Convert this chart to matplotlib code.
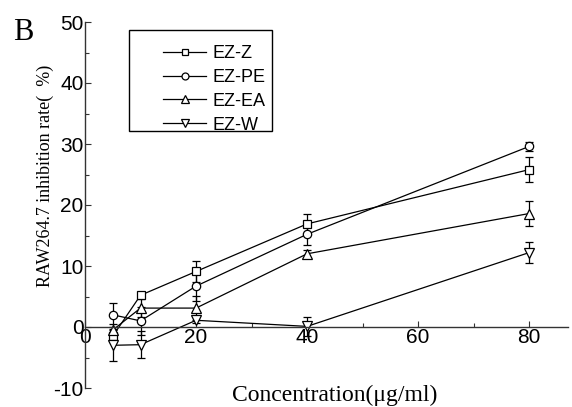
import matplotlib.pyplot as plt
from matplotlib.patches import Rectangle
from matplotlib.lines import Line2D

plt.rcParams['axes.unicode_minus'] = False

# data
conc = [5, 10, 20, 40, 80]
names = ['EZ-Z', 'EZ-PE', 'EZ-EA', 'EZ-W']
markers = ['s', 'o', '^', 'v']
ez_z = [-1.5, 5.2, 9.1, 16.9, 25.8]
ez_z_err = [1.0, 0.5, 1.8, 1.7, 2.0]
ez_pe = [2.0, 1.0, 6.7, 15.2, 29.6]
ez_pe_err = [2.0, 2.3, 2.5, 1.8, 0.7]
ez_ea = [-0.5, 3.1, 3.1, 12.0, 18.6]
ez_ea_err = [1.0, 1.5, 2.0, 0.7, 2.1]
ez_w = [-3.0, -2.9, 1.1, 0.1, 12.2]
ez_w_err = [2.6, 2.2, 0.5, 1.6, 1.7]

values = [ez_z, ez_pe, ez_ea, ez_w]
errors = [ez_z_err, ez_pe_err, ez_ea_err, ez_w_err]
msizes = [5.5, 6, 7, 7]

W, H = 572, 407
fig = plt.figure(figsize=(W / 100, H / 100), dpi=100)
ax = fig.add_axes([85 / W, 1 - 388 / H, (568 - 85) / W, (388 - 22) / H])

handles = []
for v, e, m, ms, n in zip(values, errors, markers, msizes, names):
    ax.errorbar(conc, v, yerr=e, color='black', lw=0.9, elinewidth=0.9,
                capsize=3, capthick=0.9, marker=m, markersize=ms,
                markerfacecolor='white', markeredgecolor='black',
                markeredgewidth=0.9)
    handles.append(Line2D([], [], color='black', lw=0.9, marker=m,
                          markersize=ms - 1, markerfacecolor='white',
                          markeredgecolor='black', markeredgewidth=0.9, label=n))

ax.set_xlim(0, 87)
ax.set_ylim(-10, 50)
ax.set_xticks([0, 20, 40, 60, 80])
ax.set_xticks([10, 30, 50, 70], minor=True)
ax.set_yticks([-10, 0, 10, 20, 30, 40, 50])
ax.set_yticks([-5, 5, 15, 25, 35, 45], minor=True)

ax.spines['top'].set_visible(False)
ax.spines['right'].set_visible(False)
ax.spines['bottom'].set_position(('data', 0))
for s in ['left', 'bottom']:
    ax.spines[s].set_linewidth(1.0)
    ax.spines[s].set_color('#333333')

ax.tick_params(which='both', direction='in', width=0.8, colors='#333333')
ax.tick_params(which='major', length=4, labelsize=15, pad=1, labelcolor='black')
ax.tick_params(which='minor', length=3)
for lab in ax.get_xticklabels() + ax.get_yticklabels():
    lab.set_fontfamily('Liberation Sans')

# legend with its own square frame
rect = Rectangle((129 / W, 1 - 131 / H), (272 - 129) / W, (131 - 30) / H,
                 transform=fig.transFigure, fill=False, edgecolor='black', lw=1.0)
fig.patches.append(rect)
fig.legend(handles=handles, loc='upper left',
           bbox_to_anchor=(163 / W, 1 - 45 / H), frameon=False,
           prop={'family': 'Liberation Sans', 'size': 13},
           handlelength=2.4, handletextpad=0.35, labelspacing=0.38,
           borderpad=0, borderaxespad=0)

fig.text(335 / W, 1 - 395 / H, 'Concentration(\u03bcg/ml)', ha='center', va='center',
         fontsize=17, family='Liberation Serif')
fig.text(45 / W, 1 - 176 / H, 'RAW264.7 inhibition rate(  %)', ha='center',
         va='center', rotation=90, fontsize=13, family='Liberation Serif')
fig.text(13 / W, 1 - 32 / H, 'B', ha='left', va='center', fontsize=22,
         family='Liberation Serif')

fig.savefig('out.png', dpi=100)
